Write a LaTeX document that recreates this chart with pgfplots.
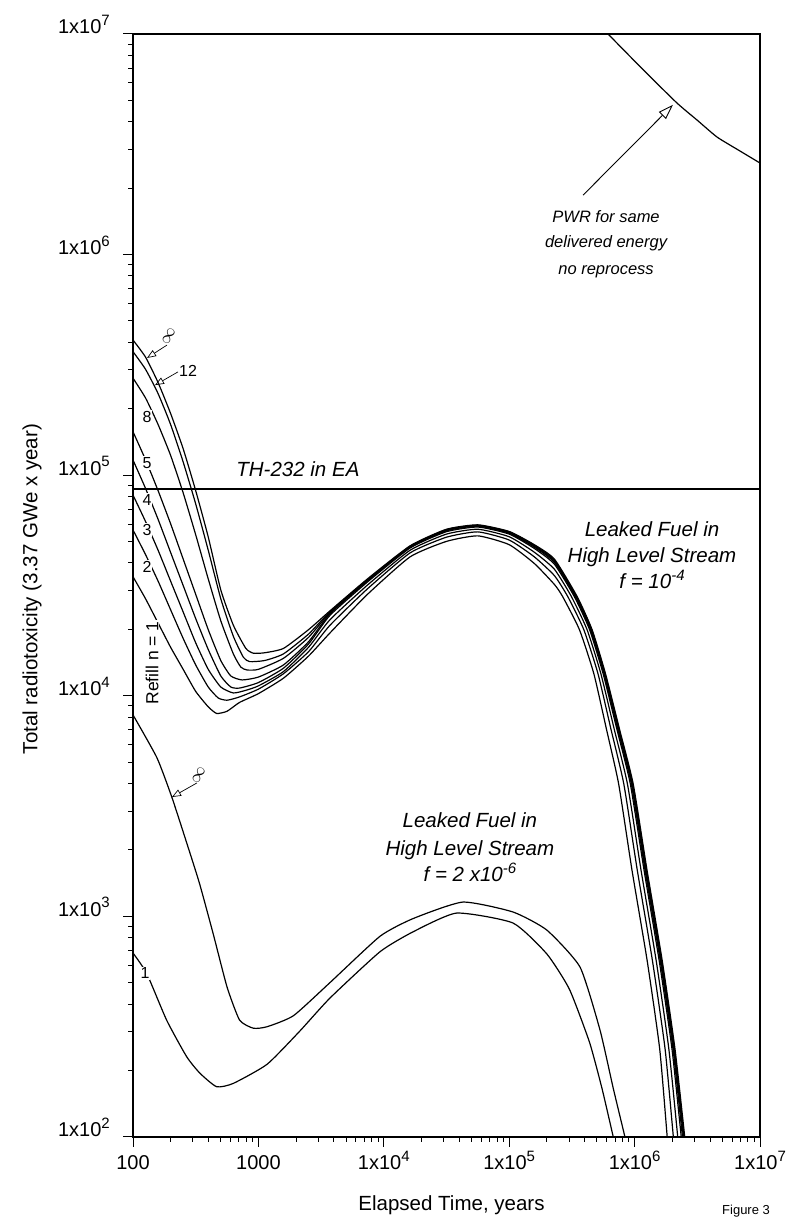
\documentclass[border=0pt]{standalone}
\usepackage{fontspec}
\setmainfont{Liberation Sans}
\usepackage{pgfplots}
\pgfplotsset{compat=1.18}
\usetikzlibrary{arrows.meta}
\newcommand{\sx}[1]{\raisebox{0.42em}{\fontsize{15}{15}\selectfont #1}}
\newcommand{\fT}{\fontsize{20}{24}\selectfont}
\newcommand{\fL}{\fontsize{20.5}{25}\selectfont}
\newcommand{\fP}{\fontsize{16.5}{20}\selectfont}
\newcommand{\fN}{\fontsize{16}{19}\selectfont}
\begin{document}
\begin{tikzpicture}
\path[use as bounding box] (-133pt,-82pt) rectangle (666pt,1137pt);
\begin{axis}[
  at={(0pt,0pt)}, anchor=south west,
  scale only axis, width=627pt, height=1103pt,
  xmode=log, ymode=log,
  xmin=100, xmax=1e7, ymin=100, ymax=1e7,
  axis line style={line width=1.2pt},
  xtick={100,1000,1e4,1e5,1e6,1e7},
  xticklabels={100,1000,1x10\sx{4},1x10\sx{5},1x10\sx{6},1x10\sx{7}},
  ytick={100,1000,1e4,1e5,1e6,1e7},
  yticklabels={1x10\sx{2},1x10\sx{3},1x10\sx{4},1x10\sx{5},1x10\sx{6},1x10\sx{7}},
  tick align=outside,
  xtick pos=bottom, ytick pos=left,
  major tick length=10pt, minor tick length=5pt,
  tick style={line width=1pt, black},
  xticklabel style={font=\fT, inner sep=0pt, anchor=base, yshift=-23pt},
  yticklabel style={font=\fT, inner sep=0pt, anchor=base east, xshift=-13pt},
  crv/.style={black, solid, line width=1.2pt, smooth, tension=0.33, mark=none},
]
% Upper group, f = 1e-4, refill n = infinity
\addplot[crv] coordinates {(100,4.10e5) (125.9,3.43e5) (158.5,2.63e5) (199.5,1.905e5) (251.2,1.318e5) (316.2,8.51e4) (398.1,5.25e4) (501.2,3.02e4) (631,2.09e4) (794.3,1.64e4) (912,1.56e4) (1122,1.567e4) (1585,1.64e4) (2512,1.995e4) (3724,2.427e4) (7413,3.388e4) (16218,4.786e4) (31623,5.689e4) (56234,5.957e4) (1e5,5.559e4) (158489,4.842e4) (2.291e5,4.169e4) (3.483e5,2.818e4) (4.581e5,1.995e4) (5.861e5,1.259e4) (7.568e5,7079) (9.750e5,3981) (1.256e6,1622) (1.660e6,631) (2.099e6,251) (2.512e6,100) (2.630e6,79.4)};
% n = 12
\addplot[crv] coordinates {(100,3.631e5) (125.9,3.020e5) (158.5,2.344e5) (199.5,1.698e5) (251.2,1.148e5) (316.2,7.413e4) (398.1,4.571e4) (501.2,2.754e4) (631,1.862e4) (758.6,1.496e4) (851.1,1.429e4) (1122,1.445e4) (1585,1.549e4) (2512,1.905e4) (3724,2.404e4) (7413,3.365e4) (16218,4.764e4) (31623,5.662e4) (56234,5.929e4) (1e5,5.534e4) (158489,4.808e4) (2.291e5,4.121e4) (3.443e5,2.818e4) (4.539e5,1.995e4) (5.808e5,1.259e4) (7.499e5,7079) (9.638e5,3981) (1.242e6,1622) (1.641e6,631) (2.075e6,251) (2.477e6,100) (2.594e6,79.4)};
% n = 8
\addplot[crv] coordinates {(100,2.754e5) (125.9,2.239e5) (158.5,1.698e5) (199.5,1.230e5) (251.2,8.318e4) (316.2,5.370e4) (398.1,3.388e4) (501.2,2.188e4) (631,1.549e4) (724.4,1.349e4) (812.8,1.309e4) (1000,1.318e4) (1585,1.479e4) (2512,1.841e4) (3724,2.382e4) (7413,3.342e4) (16218,4.742e4) (31623,5.636e4) (56234,5.902e4) (1e5,5.495e4) (158489,4.764e4) (2.291e5,4.083e4) (3.412e5,2.818e4) (4.498e5,1.995e4) (5.768e5,1.259e4) (7.430e5,7079) (9.550e5,3981) (1.227e6,1622) (1.622e6,631) (2.051e6,251) (2.449e6,100) (2.559e6,79.4)};
% n = 5
\addplot[crv] coordinates {(100,1.574e5) (125.9,1.175e5) (158.5,8.511e4) (199.5,6.026e4) (251.2,4.169e4) (316.2,2.884e4) (398.1,1.995e4) (501.2,1.445e4) (602.6,1.230e4) (741.3,1.180e4) (1000,1.216e4) (1585,1.380e4) (2512,1.758e4) (3724,2.355e4) (7413,3.319e4) (16218,4.721e4) (31623,5.598e4) (56234,5.875e4) (1e5,5.458e4) (158489,4.721e4) (2.291e5,4.027e4) (3.365e5,2.818e4) (4.446e5,1.995e4) (5.702e5,1.259e4) (7.328e5,7079) (9.419e5,3981) (1.211e6,1622) (1.600e6,631) (2.023e6,251) (2.410e6,100) (2.518e6,79.4)};
% n = 4
\addplot[crv] coordinates {(100,1.172e5) (125.9,8.710e4) (158.5,6.310e4) (199.5,4.467e4) (251.2,3.162e4) (316.2,2.239e4) (398.1,1.622e4) (501.2,1.230e4) (602.6,1.096e4) (707.9,1.084e4) (1000,1.148e4) (1585,1.334e4) (2512,1.718e4) (3724,2.317e4) (7413,3.281e4) (16218,4.677e4) (31623,5.546e4) (56234,5.821e4) (1e5,5.408e4) (158489,4.656e4) (2.291e5,3.954e4) (3.304e5,2.818e4) (4.375e5,1.995e4) (5.610e5,1.259e4) (7.211e5,7079) (9.247e5,3981) (1.189e6,1622) (1.570e6,631) (1.986e6,251) (2.355e6,100) (2.460e6,79.4)};
% n = 3
\addplot[crv] coordinates {(100,8.128e4) (125.9,6.166e4) (158.5,4.571e4) (199.5,3.311e4) (251.2,2.399e4) (316.2,1.738e4) (398.1,1.318e4) (501.2,1.096e4) (631,1.030e4) (794.3,1.059e4) (1000,1.109e4) (1585,1.288e4) (2512,1.660e4) (3724,2.213e4) (7413,3.177e4) (16218,4.571e4) (31623,5.408e4) (56234,5.689e4) (1e5,5.260e4) (158489,4.477e4) (2.291e5,3.750e4) (3.133e5,2.818e4) (4.178e5,1.995e4) (5.383e5,1.259e4) (6.871e5,7079) (8.770e5,3981) (1.125e6,1622) (1.486e6,631) (1.875e6,251) (2.208e6,100) (2.301e6,79.4)};
% n = 2
\addplot[crv] coordinates {(100,5.649e4) (125.9,4.365e4) (158.5,3.311e4) (199.5,2.455e4) (251.2,1.820e4) (316.2,1.380e4) (398.1,1.096e4) (478.6,9772) (562.3,9550) (707.9,9886) (1000,1.072e4) (1585,1.259e4) (2512,1.585e4) (3724,2.089e4) (7413,3.055e4) (16218,4.446e4) (31623,5.236e4) (56234,5.534e4) (1e5,5.082e4) (158489,4.266e4) (2.291e5,3.508e4) (2.931e5,2.818e4) (3.936e5,1.995e4) (5.105e5,1.259e4) (6.471e5,7079) (8.204e5,3981) (1.050e6,1622) (1.387e6,631) (1.750e6,251) (2.037e6,100) (2.118e6,79.4)};
% n = 1
\addplot[crv] coordinates {(100,3.467e4) (125.9,2.754e4) (158.5,2.138e4) (199.5,1.660e4) (251.2,1.318e4) (316.2,1.047e4) (398.1,8913) (464.5,8318) (562.3,8511) (707.9,9333) (1000,1.023e4) (1585,1.202e4) (2512,1.514e4) (3724,1.928e4) (7413,2.884e4) (16218,4.266e4) (31623,5.012e4) (56234,5.309e4) (1e5,4.842e4) (158489,3.981e4) (2.291e5,3.199e4) (2.667e5,2.818e4) (3.631e5,1.995e4) (4.732e5,1.259e4) (5.957e5,7079) (7.464e5,3981) (9.528e5,1622) (1.259e6,631) (1.585e6,251) (1.820e6,100) (1.884e6,79.4)};
% Lower group, f = 2e-6, n = infinity
\addplot[crv] coordinates {(100,8190) (154.9,5248) (204.2,3467) (269.2,2138) (338.8,1413) (436.5,831.8) (562.3,478.6) (707.9,338.8) (912,311.2) (1175,316.2) (1905,354.8) (3724,501.2) (9333,812.8) (17100,977.2) (42660,1161) (107200,1047) (199500,867) (367300,588.8) (529700,305.5) (676100,166) (837500,100) (891300,85.1)};
% n = 1
\addplot[crv] coordinates {(100,682.3) (128.5,552.1) (185.4,338.8) (267.9,231.2) (342.0,194.5) (464.5,169.0) (631,175.0) (1175,213.8) (2138,302.0) (3724,426.6) (9333,691.8) (17100,851.1) (38020,1035) (107200,933.3) (199500,676.1) (302000,467.7) (436500,269.2) (549500,166.0) (676100,100) (724400,85.1)};
% PWR
\addplot[crv] coordinates {(562300,1.052e7) (613800,1e7) (1.175e6,6.871e6) (2.178e6,4.864e6) (3.162e6,4.064e6) (4.539e6,3.412e6) (6.761e6,2.972e6) (1e7,2.600e6)};
% TH-232 in EA
\addplot[black, solid, mark=none, line width=1.4pt] coordinates {(100,8.65e4) (1e7,8.65e4)};

% annotations
\draw[-{Triangle[open,length=15pt,width=10pt]}, line width=0.9pt] (axis cs:3.88e5,1.86e6) -- (axis cs:2.02e6,4.77e6);
\node[font=\fP\itshape, anchor=base] at (axis cs:5.92e5,1.396e6) {PWR for same};
\node[font=\fP\itshape, anchor=base] at (axis cs:5.92e5,1.072e6) {delivered energy};
\node[font=\fP\itshape, anchor=base] at (axis cs:5.92e5,8.09e5) {no reprocess};

\node[font=\fL\itshape, anchor=base west] at (axis cs:626,9.91e4) {TH-232 in EA};

\node[font=\fL\itshape, anchor=base] at (axis cs:1.377e6,5.30e4) {Leaked Fuel in};
\node[font=\fL\itshape, anchor=base] at (axis cs:1.377e6,4.04e4) {High Level Stream};
\node[font=\fL\itshape, anchor=base] at (axis cs:1.377e6,3.05e4) {f = 10\sx{-4}};

\node[font=\fL\itshape, anchor=base] at (axis cs:4.86e4,2518) {Leaked Fuel in};
\node[font=\fL\itshape, anchor=base] at (axis cs:4.86e4,1897) {High Level Stream};
\node[font=\fL\itshape, anchor=base] at (axis cs:4.86e4,1432) {f = 2 x10\sx{-6}};

\draw[-{Triangle[open,length=9pt,width=7pt]}, line width=0.7pt] (axis cs:186.6,3.89e5) -- (axis cs:129.4,3.40e5);
\node[font=\fN, anchor=south west, inner sep=1pt, rotate=60] at (axis cs:190,3.80e5) {$\infty$};
\draw[-{Triangle[open,length=9pt,width=7pt]}, line width=0.7pt] (axis cs:228.6,2.94e5) -- (axis cs:149.7,2.56e5);
\node[font=\fN, anchor=west, inner sep=1pt] at (axis cs:228.6,2.98e5) {12};
\draw[-{Triangle[open,length=9pt,width=7pt]}, line width=0.7pt] (axis cs:323.6,4027) -- (axis cs:204.6,3475);
\node[font=\fN, anchor=south west, inner sep=1pt, rotate=60] at (axis cs:330,3900) {$\infty$};

\node[font=\fN, fill=white, inner sep=1pt] at (axis cs:129.4,1.84e5) {8};
\node[font=\fN, fill=white, inner sep=1pt] at (axis cs:129.4,1.135e5) {5};
\node[font=\fN, fill=white, inner sep=1pt] at (axis cs:129.4,7.73e4) {4};
\node[font=\fN, fill=white, inner sep=1pt] at (axis cs:129.4,5.65e4) {3};
\node[font=\fN, fill=white, inner sep=1pt] at (axis cs:129.4,3.84e4) {2};
\node[font=\fN, fill=white, inner sep=1pt] at (axis cs:124.7,553) {1};
\node[font=\fontsize{17.5}{20}\selectfont, fill=white, inner sep=1pt, rotate=90] at (axis cs:141.9,1.41e4) {Refill n = 1};
\end{axis}
\node[font=\fL, rotate=90] at (-101pt,548pt) {Total radiotoxicity (3.37 GWe x year)};
\node[font=\fL, anchor=base] at (318.5pt,-73pt) {Elapsed Time, years};
\node[font=\fontsize{13}{15}\selectfont, anchor=base west, inner sep=0pt] at (589pt,-77pt) {Figure 3};
\end{tikzpicture}
\end{document}
